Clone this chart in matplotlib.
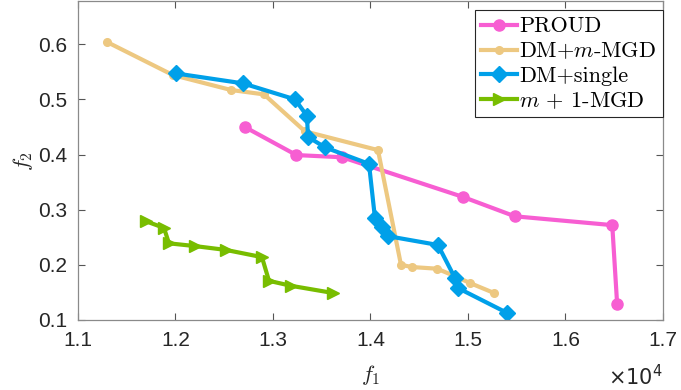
"""Pareto fronts of the four methods in the (f1, f2) plane."""
import matplotlib
matplotlib.use("Agg")
import matplotlib.pyplot as plt
from matplotlib.ticker import FuncFormatter, MultipleLocator

# values
proud_f1 = [12710, 13240, 13710, 14950, 15480, 16480, 16530]
proud_f2 = [0.450, 0.399, 0.395, 0.323, 0.288, 0.272, 0.129]

dm_mgd_f1 = [11297, 11974, 12569, 12908, 13328, 14077, 14313, 14426, 14682, 14846, 15021, 15267]
dm_mgd_f2 = [0.604, 0.544, 0.517, 0.509, 0.442, 0.408, 0.200, 0.196, 0.193, 0.181, 0.167, 0.149]

dm_single_f1 = [12005, 12692, 13226, 13349, 13359, 13533, 13985, 14046, 14118, 14179, 14692,
                14867, 14897, 15400]
dm_single_f2 = [0.547, 0.529, 0.500, 0.470, 0.432, 0.413, 0.383, 0.285, 0.268, 0.252, 0.236,
                0.176, 0.158, 0.113]

m1_mgd_f1 = [11697, 11882, 11933, 12200, 12518, 12887, 12959, 13185, 13615]
m1_mgd_f2 = [0.279, 0.267, 0.239, 0.234, 0.227, 0.214, 0.171, 0.162, 0.149]

labels = ["PROUD", "DM+$m$-MGD", "DM+single", "$m$ + 1-MGD"]
colors = ["#f75ed2", "#edc881", "#00a0e9", "#78bd00"]

plt.rcParams["mathtext.fontset"] = "cm"
plt.rcParams["font.family"] = ["Liberation Sans", "DejaVu Sans"]

fig = plt.figure(figsize=(6.81, 3.90), dpi=100)
ax = fig.add_axes([0.1145, 0.1795, 0.859, 0.8175])

ax.plot(proud_f1, proud_f2, "-o", color=colors[0], lw=3, ms=8, label=labels[0])
ax.plot(dm_mgd_f1, dm_mgd_f2, "-o", color=colors[1], lw=3, ms=5.5, label=labels[1])
ax.plot(dm_single_f1, dm_single_f2, "-D", color=colors[2], lw=3, ms=8, label=labels[2])
ax.plot(m1_mgd_f1, m1_mgd_f2, "->", color=colors[3], lw=3, ms=9, label=labels[3])

ax.set_xlim(11000, 17000)
ax.set_ylim(0.1, 0.678)
ax.xaxis.set_major_locator(MultipleLocator(1000))
ax.yaxis.set_major_locator(MultipleLocator(0.1))
ax.xaxis.set_major_formatter(FuncFormatter(lambda v, p: f"{v / 1e4:.1f}"))
ax.yaxis.set_major_formatter(FuncFormatter(lambda v, p: f"{v:.1f}"))

for s in ax.spines.values():
    s.set_color("#8a8a8a")
    s.set_linewidth(0.9)
ax.tick_params(direction="in", length=5, width=0.8, color="#555555", labelsize=15,
               labelcolor="#262626", top=True, right=True, pad=8)

ax.set_xlabel("$f_1$", fontsize=16, color="#262626", labelpad=9)
ax.set_ylabel("$f_2$", fontsize=16, color="#262626", labelpad=2)
ax.text(1.0, -0.205, r"$\times10^{4}$", transform=ax.transAxes, ha="right", va="baseline",
        fontsize=15, color="#262626", math_fontfamily="dejavusans")

leg = ax.legend(loc="upper right", bbox_to_anchor=(1.0, 0.972), borderaxespad=0,
                prop={"family": "cmr10", "size": 16}, handlelength=1.6, handletextpad=0.1,
                labelspacing=0.2, borderpad=0.3, fancybox=False, framealpha=1)
leg.get_frame().set_edgecolor("#262626")
leg.get_frame().set_linewidth(0.8)

fig.savefig("out.png", dpi=100)
